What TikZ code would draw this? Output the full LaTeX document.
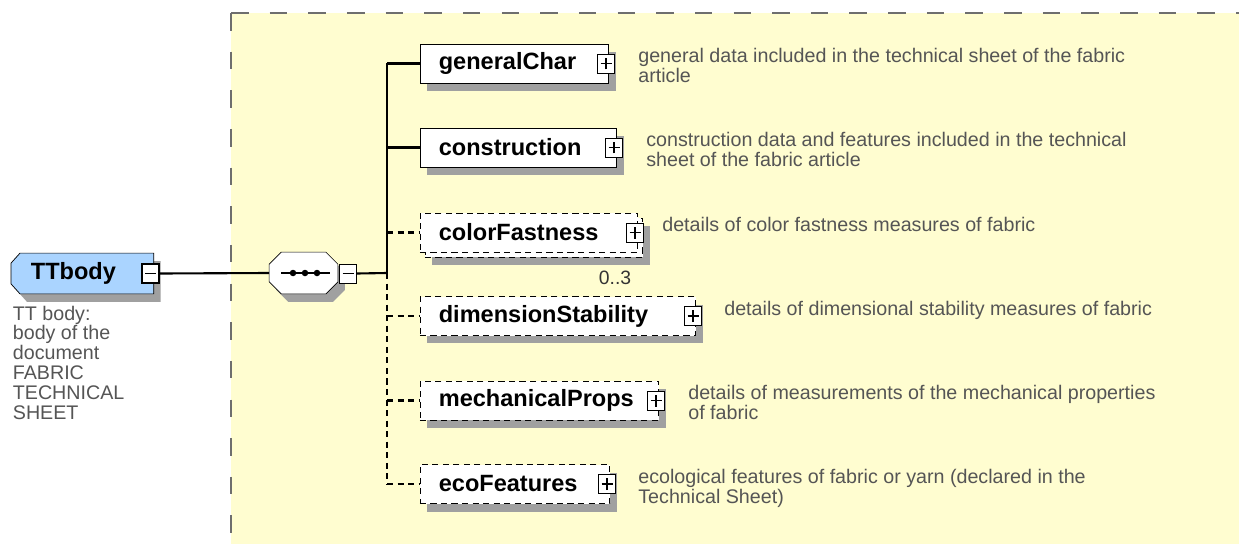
\documentclass[tikz,border=0pt]{standalone}
\usepackage{fontspec}
\setmainfont{Liberation Sans}
\usetikzlibrary{shadows}
\pgfdeclarelayer{background}
\pgfsetlayers{background,main}
\definecolor{schemayellow}{RGB}{255,253,208}
\definecolor{schemablue}{RGB}{170,212,255}
\definecolor{schemashadow}{RGB}{160,160,160}
\definecolor{schemagray}{RGB}{85,85,85}
\definecolor{bordergray}{RGB}{110,110,110}
\begin{document}
\begin{tikzpicture}[x=0.02cm,y=-0.02cm,line width=1pt]
		\tikzset{elembase/.style={draw,fill=white,rectangle,minimum height=0.78cm,inner xsep=0.38cm,inner ysep=0pt,align=left,anchor=west,font=\fontsize{13.4}{16}\selectfont\bfseries},
			elem/.style={general shadow={shadow xshift=0.14cm,shadow yshift=-0.16cm,fill=schemashadow},elembase},
			dashes/.style={dash pattern=on 3.5pt off 2.5pt},
			opt/.style={elem,dashes},
			optmany/.style={general shadow={shadow xshift=0.24cm,shadow yshift=-0.26cm,fill=schemashadow},general shadow={shadow xshift=0.1cm,shadow yshift=-0.1cm,fill=white,draw,dashes},elembase,dashes},
			sign/.style={draw,fill=white,rectangle,minimum width=0.34cm,minimum height=0.38cm,inner sep=0pt},
			plus/.style={sign,path picture={\draw[line width=1pt] ([xshift=-0.11cm]path picture bounding box.center)--([xshift=0.11cm]path picture bounding box.center) ([yshift=-0.12cm]path picture bounding box.center)--([yshift=0.12cm]path picture bounding box.center);}},
			minus/.style={sign,path picture={\draw[line width=1pt] ([xshift=-0.11cm]path picture bounding box.center)--([xshift=0.11cm]path picture bounding box.center);}},
			desc/.style={inner sep=0pt,anchor=north west,align=left,text=schemagray,font=\fontsize{11.2}{11.3}\selectfont},
			conn/.style={line width=1.2pt}}
		\useasboundingbox (0,0) rectangle (1239,544);
		\node[elembase,draw=none,fill=none,text width=2.06cm] (TTbody) at (11,273.5) {TTbody};
		\node[minus] (TTbody-x) at ([xshift=-0.06cm]TTbody.east) {};
		\node[desc] (TTbody-d) at (12,305) {TT body:\\body of the\\document\\FABRIC\\TECHNICAL\\SHEET};
		\node[minimum width=1.34cm,minimum height=0.8cm,inner sep=0pt] (seq) at (303.5,273) {};
		\begin{pgfonlayer}{background}
		\fill[schemayellow] (231,13) rectangle (1239,544);
		\draw[bordergray,line width=1.1pt,dash pattern=on 10pt off 12pt] (231,13)--(1239,13);
		\draw[bordergray,line width=1.1pt,dash pattern=on 10pt off 12pt] (231,13)--(231,544);
		\fill[schemashadow] ([shift={(16,8)}]TTbody.north west)--([shift={(7,8)}]TTbody.north east)--([shift={(7,8)}]TTbody.south east)--([shift={(16,8)}]TTbody.south west)--([shift={(7,-2)}]TTbody.south west)--([shift={(7,18)}]TTbody.north west)--cycle;
		\filldraw[fill=schemablue] ([shift={(9,0)}]TTbody.north west)--(TTbody.north east)--(TTbody.south east)--([shift={(9,0)}]TTbody.south west)--([shift={(0,-10)}]TTbody.south west)--([shift={(0,10)}]TTbody.north west)--cycle;
		\fill[schemashadow] ([shift={(19,8)}]seq.north west)--([shift={(-5,8)}]seq.north east)--([shift={(7,20)}]seq.north east)--([shift={(7,-4)}]seq.south east)--([shift={(-5,8)}]seq.south east)--([shift={(19,8)}]seq.south west)--([shift={(7,-4)}]seq.south west)--([shift={(7,20)}]seq.north west)--cycle;
		\filldraw[fill=white] ([shift={(12,0)}]seq.north west)--([shift={(-12,0)}]seq.north east)--([shift={(0,12)}]seq.north east)--([shift={(0,-12)}]seq.south east)--([shift={(-12,0)}]seq.south east)--([shift={(12,0)}]seq.south west)--([shift={(0,-12)}]seq.south west)--([shift={(0,12)}]seq.north west)--cycle;
		\end{pgfonlayer}
		\draw[conn] ([xshift=-0.45cm]seq.center)--([xshift=0.53cm]seq.center);
		\foreach \d in {-0.21,0.03,0.27}
		\fill ([xshift=\d cm]seq.center) circle (0.065cm);
		\node[minus] (seq-x) at (348,273.5) {};
		\coordinate (bus) at (387,273);
		\foreach \n/\y/\w/\s/\t in {gc/63.5/3.02/elem/generalChar,cons/147.5/3.18/elem/construction,cf/232.5/3.60/optmany/colorFastness,ds/316/4.76/opt/dimensionStability,mech/400.5/4.02/opt/mechanicalProps,eco/484/3.04/opt/ecoFeatures}{
		\node[\s,text width=\w cm] (\n) at (419.5,\y) {\t};
		\node[plus] (\n-x) at ([xshift=-0.06cm]\n.east) {};
		}
		\node[inner sep=0pt,text=black!80,font=\fontsize{11}{12}\selectfont] (cf-n) at (615,277.5) {0..3};
		\draw[conn] (TTbody-x.east)--(seq.west);
		\draw[conn] (seq-x.east)--(bus);
		\draw[conn] (bus |- gc.west)--(bus);
		\draw[conn,dashes] (bus)--(bus |- eco.west);
		\foreach \n in {gc,cons}
		\draw[conn] (bus |- \n.west)--(\n.west);
		\foreach \n in {cf,ds,mech,eco}
		\draw[conn,dashes] (bus |- \n.west)--(\n.west);
		\node[desc] (gc-d) at (638,48) {general data included in the technical sheet of the fabric\\article};
		\node[desc] (cons-d) at (646,132) {construction data and features included in the technical\\sheet of the fabric article};
		\node[desc] (cf-d) at (662,217) {details of color fastness measures of fabric};
		\node[desc] (ds-d) at (724,301) {details of dimensional stability measures of fabric};
		\node[desc] (mech-d) at (688,385) {details of measurements of the mechanical properties\\of fabric};
		\node[desc] (eco-d) at (638,469) {ecological features of fabric or yarn (declared in the\\Technical Sheet)};
\end{tikzpicture}
\end{document}
